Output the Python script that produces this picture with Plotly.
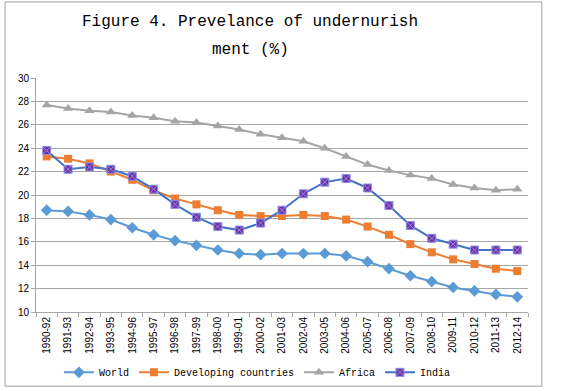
import plotly.graph_objects as go

periods = ["1990-92", "1991-93", "1992-94", "1993-95", "1994-96", "1995-97", "1996-98",
           "1997-99", "1998-00", "1999-01", "2000-02", "2001-03", "2002-04", "2003-05",
           "2004-06", "2005-07", "2006-08", "2007-09", "2008-10", "2009-11", "2010-12",
           "2011-13", "2012-14"]
world = [18.7, 18.6, 18.3, 17.9, 17.2, 16.6, 16.1, 15.7, 15.3, 15.0, 14.9, 15.0, 15.0,
         15.0, 14.8, 14.3, 13.7, 13.1, 12.6, 12.1, 11.8, 11.5, 11.3]
developing = [23.3, 23.1, 22.7, 22.0, 21.3, 20.4, 19.7, 19.2, 18.7, 18.3, 18.2, 18.2, 18.3,
              18.2, 17.9, 17.3, 16.6, 15.8, 15.1, 14.5, 14.1, 13.7, 13.5]
africa = [27.7, 27.4, 27.2, 27.1, 26.8, 26.6, 26.3, 26.2, 25.9, 25.6, 25.2, 24.9, 24.6,
          24.0, 23.3, 22.6, 22.1, 21.7, 21.4, 20.9, 20.6, 20.4, 20.5]
india = [23.8, 22.2, 22.4, 22.2, 21.6, 20.5, 19.2, 18.1, 17.3, 17.0, 17.6, 18.7, 20.1,
         21.1, 21.4, 20.6, 19.1, 17.4, 16.3, 15.8, 15.3, 15.3, 15.3]
y_ticks = [10, 12, 14, 16, 18, 20, 22, 24, 26, 28, 30]

MONO = "Liberation Mono, DejaVu Sans Mono, monospace"
SANS = "Liberation Sans, Arial, sans-serif"

fig = go.Figure()
fig.add_trace(go.Scatter(x=periods, y=world, name="World", mode="lines+markers",
                         line=dict(color="#5B9BD5", width=2),
                         marker=dict(symbol="diamond", size=9, color="#5B9BD5")))
fig.add_trace(go.Scatter(x=periods, y=developing, name="Developing countries", mode="lines+markers",
                         line=dict(color="#ED7D31", width=2),
                         marker=dict(symbol="square", size=8, color="#ED7D31")))
fig.add_trace(go.Scatter(x=periods, y=africa, name="Africa", mode="lines+markers",
                         line=dict(color="#A5A5A5", width=2),
                         marker=dict(symbol="triangle-up", size=9, color="#A5A5A5")))
fig.add_trace(go.Scatter(x=periods, y=india, name="India", mode="lines+markers",
                         line=dict(color="#4472C4", width=2),
                         marker=dict(symbol="square-x", size=8, color="#7030A0",
                                     line=dict(color="#8E8EE8", width=1))))

fig.update_layout(
    width=568, height=391,
    margin=dict(l=36, r=40, t=78, b=79, autoexpand=False),
    paper_bgcolor="white", plot_bgcolor="white",
    showlegend=True,
    legend=dict(orientation="h", x=0.45, xanchor="center", y=-0.258, yanchor="middle",
                font=dict(family=MONO, size=10, color="#000000"),
                itemwidth=30, tracegroupgap=0, bgcolor="rgba(0,0,0,0)"),
    xaxis=dict(type="category", tickangle=-90, tickfont=dict(family=SANS, size=10, color="#000000"),
               showgrid=False, showline=True, linecolor="#A6A6A6", linewidth=1,
               ticks="outside", tickson="boundaries", ticklen=4, tickcolor="#A6A6A6",
               range=[-0.5, len(periods) - 0.5]),
    yaxis=dict(range=[10, 30], tickvals=y_ticks, tickfont=dict(family=SANS, size=10, color="#000000"),
               showgrid=True, gridcolor="#A6A6A6", gridwidth=1,
               showline=True, linecolor="#A6A6A6", linewidth=1,
               ticks="outside", ticklen=4, tickcolor="#A6A6A6", zeroline=False),
)

fig.add_shape(type="rect", xref="paper", yref="paper",
              x0=-0.063, x1=1.028, y0=-0.317, y1=1.325,
              line=dict(color="#A0A0A0", width=1), fillcolor="rgba(0,0,0,0)", layer="below")

fig.add_annotation(text="Figure 4. Prevelance of undernurish", xref="paper", yref="paper",
                   x=(250 - 36) / 492, y=(311.7 - 22) / 234, xanchor="center", yanchor="middle",
                   showarrow=False, font=dict(family=MONO, size=16, color="#000000"))
fig.add_annotation(text="ment (%)", xref="paper", yref="paper",
                   x=(250 - 36) / 492, y=(311.7 - 50) / 234, xanchor="center", yanchor="middle",
                   showarrow=False, font=dict(family=MONO, size=16, color="#000000"))

fig.write_html("out.html", config={"displayModeBar": False},
               post_script="document.body.style.margin='0';document.body.style.overflow='hidden';")
